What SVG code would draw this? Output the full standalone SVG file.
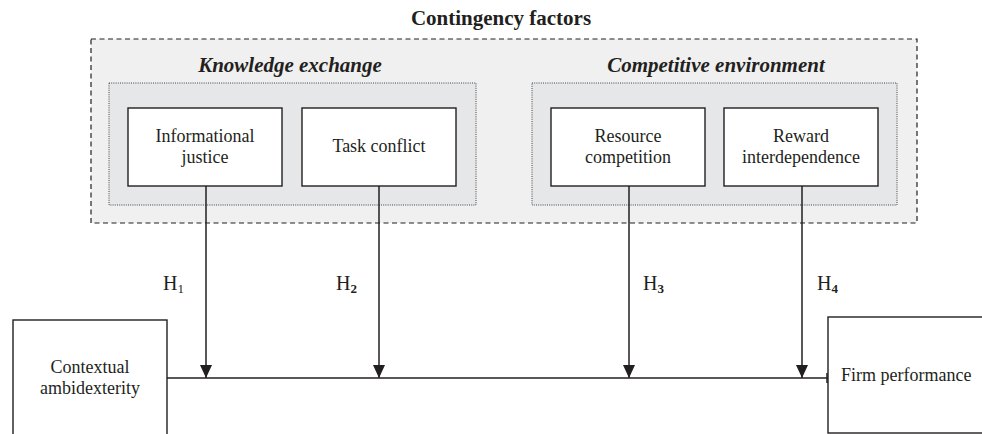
<svg xmlns="http://www.w3.org/2000/svg" width="982" height="434" viewBox="0 0 982 434" font-family="'Liberation Serif', 'Times New Roman', serif">
<style>
text{font-family:'Liberation Serif','Times New Roman',serif;fill:#231f20}
.box{fill:#fff;stroke:#231f20;stroke-width:1.4}
.lbl{font-size:18px;text-anchor:middle}
.grp{font-size:21px;font-weight:bold;font-style:italic;text-anchor:middle}
.h{font-size:20px}
.sub{font-size:13px}
.ln{stroke:#231f20;stroke-width:1.5;fill:none}
</style>
<defs>
<marker id="arr" viewBox="0 0 13 12" refX="13" refY="6" markerWidth="13" markerHeight="12" markerUnits="userSpaceOnUse" orient="auto">
<path d="M0,0 L13,6 L0,12 Z" fill="#231f20"/>
</marker>
</defs>
<text x="501" y="25" font-size="21" font-weight="bold" text-anchor="middle">Contingency factors</text>
<g id="contingency">
<rect x="91" y="39" width="826" height="184" fill="#f0f0f0" stroke="#231f20" stroke-width="1.2" stroke-dasharray="5,3.5"/>
</g>
<g id="knowledge-exchange">
<rect x="109" y="83" width="367" height="122" fill="#e6e7e9" stroke="#444" stroke-width="1" stroke-dasharray="1,1.2"/>
<text class="grp" x="290" y="72">Knowledge exchange</text>
</g>
<g id="competitive-environment">
<rect x="532" y="83" width="365" height="122" fill="#e6e7e9" stroke="#444" stroke-width="1" stroke-dasharray="1,1.2"/>
<text class="grp" x="716" y="72">Competitive environment</text>
</g>
<g id="informational-justice">
<rect class="box" x="128" y="108" width="154" height="78"/>
<text class="lbl" x="205" y="142">Informational</text>
<text class="lbl" x="205" y="163">justice</text>
</g>
<g id="task-conflict">
<rect class="box" x="302" y="108" width="154" height="78"/>
<text class="lbl" x="379" y="152">Task conflict</text>
</g>
<g id="resource-competition">
<rect class="box" x="551" y="108" width="154" height="78"/>
<text class="lbl" x="628" y="142">Resource</text>
<text class="lbl" x="628" y="163">competition</text>
</g>
<g id="reward-interdependence">
<rect class="box" x="724" y="108" width="154" height="78"/>
<text class="lbl" x="801" y="142">Reward</text>
<text class="lbl" x="801" y="163">interdependence</text>
</g>
<g id="contextual-ambidexterity">
<rect class="box" x="13" y="320" width="154" height="130"/>
<text class="lbl" x="90" y="373">Contextual</text>
<text class="lbl" x="90" y="394">ambidexterity</text>
</g>
<g id="firm-performance">
<rect class="box" x="828" y="317" width="180" height="116"/>
<text class="lbl" x="841" y="381" text-anchor="start" style="text-anchor:start">Firm performance</text>
</g>
<g id="connectors">
<path class="ln" d="M167,378 H828"/>
<path class="ln" d="M827,373 V383"/>
<path class="ln" d="M206,186 V378" marker-end="url(#arr)"/>
<path class="ln" d="M379,186 V378" marker-end="url(#arr)"/>
<path class="ln" d="M629,186 V378" marker-end="url(#arr)"/>
<path class="ln" d="M802,186 V378" marker-end="url(#arr)"/>
<text class="h" x="163" y="290">H<tspan class="sub" dy="3">1</tspan></text>
<text class="h" x="336" y="290">H<tspan class="sub" dy="3" font-weight="bold">2</tspan></text>
<text class="h" x="643" y="290">H<tspan class="sub" dy="3" font-weight="bold">3</tspan></text>
<text class="h" x="817" y="290">H<tspan class="sub" dy="3" font-weight="bold">4</tspan></text>
</g>
</svg>
